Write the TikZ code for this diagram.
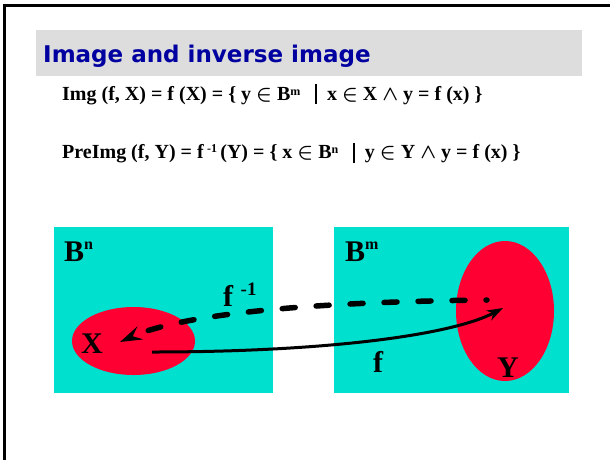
\documentclass[tikz,border=0pt]{standalone}
\usepackage{fontspec}
\setmainfont{Liberation Serif}
\newfontfamily\titlefont{DejaVu Sans}
\usetikzlibrary{shapes.geometric,arrows.meta}
\definecolor{setcyan}{RGB}{0,224,206}
\definecolor{setred}{RGB}{255,0,51}
\definecolor{bargray}{RGB}{221,221,221}
\definecolor{titleblue}{RGB}{0,0,160}
\newcommand{\setbar}[1]{\rule[#1]{1.6pt}{20pt}}
\newcommand{\upidx}[2]{\raisebox{#1}{\fontsize{12}{12}\selectfont #2}}
\begin{document}
\begin{tikzpicture}[x=1pt,y=-1pt,
	space/.style={fill=setcyan,inner sep=0,anchor=north west,minimum height=166pt},
	subset/.style={ellipse,fill=setred,inner sep=0},
	lab/.style={font=\fontsize{30}{30}\selectfont\bfseries,inner sep=0,anchor=base west},
	formula/.style={font=\fontsize{20}{20}\selectfont\bfseries\boldmath,inner sep=0,anchor=base west}]
	\useasboundingbox (0,0) rectangle (610,459);
	% frame and title
	\draw [line width=3pt] (4.7,470) -- (4.7,5.3) -- (620,5.3);
	\node [fill=bargray,inner sep=0,anchor=north west,minimum width=546pt,minimum height=46pt] at (36,30) (bar) {};
	\node [font=\titlefont\fontsize{23}{23}\selectfont\bfseries,text=titleblue,inner sep=0,anchor=base west] at (43,62) (title) {Image and inverse image};
	\node [formula] at (62,100) (img) {Img (f, X) = f (X) = \{ y $\in$ B\upidx{5pt}{m} \ \ \setbar{-4pt}\ \ x $\in$ X $\wedge$ y = f (x) \}};
	\node [formula] at (62,158) (preimg) {PreImg (f, Y) = f\,\upidx{6pt}{-1}\,(Y) = \{ x $\in$ B\upidx{5pt}{n} \ \ \setbar{-5pt}\ \ y $\in$ Y $\wedge$ y = f (x) \}};
	
	% the two spaces and the two sets
	\node [space,minimum width=219pt] at (54,227) (Bn) {};
	\node [space,minimum width=235pt] at (334,227) (Bm) {};
	\node [subset,minimum width=123pt,minimum height=68pt] at (133.5,341) (X) {};
	\node [subset,minimum width=98pt,minimum height=140pt] at (505,311) (Y) {};
	\node [lab] at (64,261) (Bnlab) {B\raisebox{12pt}{\fontsize{16}{16}\selectfont n}};
	\node [lab] at (345,261) (Bmlab) {B\raisebox{12pt}{\fontsize{16}{16}\selectfont m}};
	\node [lab] at (81,353) (Xlab) {X};
	\node [lab] at (497,377) (Ylab) {Y};
	
	% f and its inverse
	\coordinate (xf) at (152,352);
	\coordinate (yf) at (503,308);
	\coordinate (yinv) at (487,300);
	\coordinate (xinv) at (120,342);
	\draw [line width=3pt,-{Stealth[length=16pt,width=11pt,inset=5pt]}] (xf) .. controls (320,352) and (450,336) .. (yf);
	\draw [line width=5.5pt,line cap=round,dash pattern=on 13pt off 21pt,dash phase=12pt,-{Stealth[length=22pt,width=14pt,inset=8pt]}] (yinv) .. controls (300,302) and (180,315) .. (xinv);
	\node [lab] at (373,372) (flab) {f};
	\node [lab] at (223,306) (finvlab) {f\ \raisebox{11pt}{\fontsize{19}{19}\selectfont -1}};
\end{tikzpicture}
\end{document}
